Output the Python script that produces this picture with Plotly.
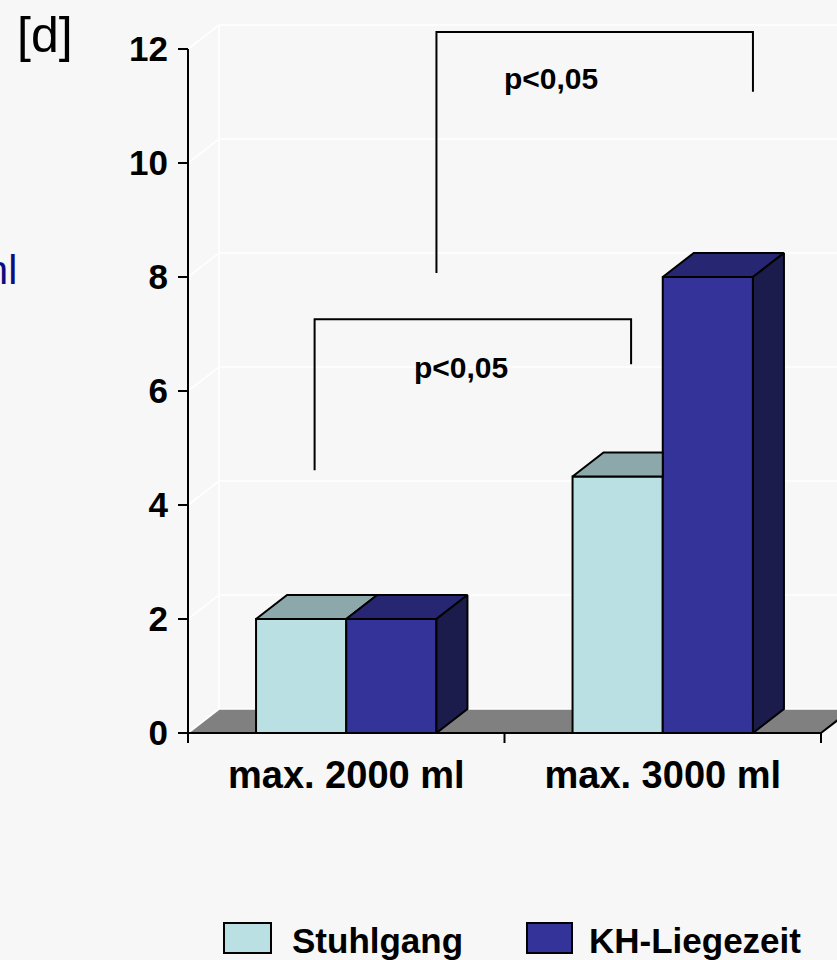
import plotly.graph_objects as go

# ---- data -------------------------------------------------------------
categories = ["max. 2000 ml", "max. 3000 ml"]
series_names = ["Stuhlgang", "KH-Liegezeit"]
stuhlgang = [2.0, 4.5]
kh_liegezeit = [2.0, 8.0]
y_ticks = [0, 2, 4, 6, 8, 10, 12]
unit_label = "[d]"
side_label = "ml"
sig_label = "p<0,05"

# significance brackets: left x, right x, left foot, right foot, top (data units)
bracket_x = [(-0.10, 0.90), (0.285, 1.285)]
bracket_y = [(4.61, 6.47, 7.26), (8.07, 11.25, 12.30)]
bracket_text_pos = [(0.363, 6.42), (0.647, 11.49)]

# ---- style / layout constants -----------------------------------------
W, H = 837, 960
X0_PX, Y0_PX = 188, 733          # pixel position of the front-left corner
CAT_PX, UNIT_PX = 316.5, 57.0    # pixels per category / per y unit
DEPTH_PX = (31, 24)              # 3-D depth offset of the box faces
BAR_W = 0.285
BG = "#f7f7f7"
FRONT = ["#BBE0E3", "#333399"]
TOP = ["#8DA8AB", "#262673"]
SIDE = ["#6E8486", "#1B1B4C"]
FONT = "Liberation Sans, Arial, Helvetica, sans-serif"

values = [stuhlgang, kh_liegezeit]
ddx = DEPTH_PX[0] / CAT_PX
ddy = DEPTH_PX[1] / UNIT_PX
x_lo = -0.5 - X0_PX / CAT_PX
x_hi = -0.5 + (W - X0_PX) / CAT_PX
y_lo = -(H - Y0_PX) / UNIT_PX
y_hi = Y0_PX / UNIT_PX
xL, xR = -0.5, len(categories) - 0.5
ymax = y_ticks[-1]
tick_len = 10 / UNIT_PX

fig = go.Figure()
shapes = []

# floor of the 3-D box
shapes.append(dict(type="path", layer="below", xref="x", yref="y",
                   path=f"M{xL},0 L{xR},0 L{xR + ddx},{ddy} L{xL + ddx},{ddy} Z",
                   fillcolor="#808080", line=dict(width=0)))
# back wall grid and side-wall diagonals
for v in y_ticks:
    shapes.append(dict(type="line", layer="below", xref="x", yref="y",
                       x0=xL + ddx, y0=v + ddy, x1=x_hi + 1, y1=v + ddy,
                       line=dict(color="white", width=1.6)))
    shapes.append(dict(type="line", layer="below", xref="x", yref="y",
                       x0=xL, y0=v, x1=xL + ddx, y1=v + ddy,
                       line=dict(color="white", width=1.6)))
shapes.append(dict(type="line", layer="below", xref="x", yref="y",
                   x0=xL + ddx, y0=ddy, x1=xL + ddx, y1=ymax + ddy,
                   line=dict(color="white", width=1.6)))
# axis lines, floor edge and category tick marks
axis_line = dict(color="black", width=2)
shapes.append(dict(type="line", layer="below", xref="x", yref="y",
                   x0=xL, y0=0, x1=xL, y1=ymax, line=axis_line))
shapes.append(dict(type="line", layer="below", xref="x", yref="y",
                   x0=xL, y0=0, x1=xR, y1=0, line=axis_line))
shapes.append(dict(type="line", layer="below", xref="x", yref="y",
                   x0=xR, y0=0, x1=xR + ddx, y1=ddy, line=axis_line))
for k in range(len(categories) + 1):
    xb = xL + k
    shapes.append(dict(type="line", layer="below", xref="x", yref="y",
                       x0=xb, y0=0, x1=xb, y1=-tick_len, line=axis_line))

# front faces of the columns
for i, name in enumerate(series_names):
    fig.add_trace(go.Bar(
        x=list(range(len(categories))), y=values[i], name=name,
        width=BAR_W, offset=-BAR_W + i * BAR_W,
        marker=dict(color=FRONT[i], line=dict(color="black", width=2)),
        showlegend=False, hoverinfo="skip"))


def poly(pts, color):
    xs = [p[0] for p in pts] + [pts[0][0]]
    ys = [p[1] for p in pts] + [pts[0][1]]
    fig.add_trace(go.Scatter(x=xs, y=ys, mode="lines", fill="toself",
                             fillcolor=color, line=dict(color="black", width=2),
                             showlegend=False, hoverinfo="skip"))


# top and right faces, hidden parts left out where a neighbour covers them
for c in range(len(categories)):
    for i in range(len(series_names)):
        v = values[i][c]
        x0 = c - BAR_W + i * BAR_W
        x1 = x0 + BAR_W
        nxt = values[i + 1][c] if i + 1 < len(series_names) else None
        if nxt is not None and nxt > v:
            poly([(x0, v), (x1, v), (x1, v + ddy), (x0 + ddx, v + ddy)], TOP[i])
        else:
            poly([(x0, v), (x1, v), (x1 + ddx, v + ddy), (x0 + ddx, v + ddy)], TOP[i])
        if nxt is None:
            poly([(x1, 0), (x1, v), (x1 + ddx, v + ddy), (x1 + ddx, ddy)], SIDE[i])
        elif nxt < v:
            poly([(x1, nxt), (x1, v), (x1 + ddx, v + ddy), (x1 + ddx, nxt + ddy)], SIDE[i])

# significance brackets
annotations = []
for (xa, xb), (ya, yb, yt), (tx, ty) in zip(bracket_x, bracket_y, bracket_text_pos):
    fig.add_trace(go.Scatter(x=[xa, xa, xb, xb], y=[ya, yt, yt, yb], mode="lines",
                             line=dict(color="black", width=2),
                             showlegend=False, hoverinfo="skip"))
    annotations.append(dict(x=tx, y=ty, xref="x", yref="y", text=sig_label,
                            showarrow=False, xanchor="center", yanchor="middle",
                            font=dict(family=FONT, size=30, color="black", weight="bold")))

# unit label and clipped side text
annotations.append(dict(x=45 / W, y=1 - 35 / H, xref="paper", yref="paper",
                        xanchor="center", yanchor="middle",
                        text=unit_label, showarrow=False,
                        font=dict(family=FONT, size=50, color="black")))
annotations.append(dict(x=19 / W, y=1 - 270 / H, xref="paper", yref="paper",
                        xanchor="right", yanchor="middle",
                        text=side_label, showarrow=False,
                        font=dict(family=FONT, size=41, color="#0d0d80")))

# legend
legend_swatch_x = [(224, 271), (527, 572)]
legend_text_x = [290, 587]
for i, name in enumerate(series_names):
    sx0, sx1 = legend_swatch_x[i]
    shapes.append(dict(type="rect", xref="paper", yref="paper",
                       x0=sx0 / W, x1=sx1 / W, y0=1 - 953 / H, y1=1 - 923 / H,
                       fillcolor=FRONT[i], line=dict(color="black", width=2)))
    annotations.append(dict(x=legend_text_x[i] / W, y=1 - 940 / H,
                            xref="paper", yref="paper",
                            xanchor="left", yanchor="middle",
                            text=name, showarrow=False,
                            font=dict(family=FONT, size=35, color="black", weight="bold")))

fig.update_layout(
    width=W, height=H,
    margin=dict(l=0, r=0, t=0, b=0, autoexpand=False),
    paper_bgcolor=BG, plot_bgcolor=BG,
    barmode="overlay",
    shapes=shapes, annotations=annotations,
    xaxis=dict(range=[x_lo, x_hi], showgrid=False, zeroline=False, showline=False,
               tickvals=list(range(len(categories))), ticktext=categories,
               ticks="", anchor="free", position=(H - Y0_PX) / H,
               ticklabelstandoff=16,
               tickfont=dict(family=FONT, size=38, color="black", weight="bold"),
               fixedrange=True),
    yaxis=dict(range=[y_lo, y_hi], showgrid=False, zeroline=False, showline=False,
               tickvals=y_ticks, ticks="outside", ticklen=10, tickwidth=2,
               tickcolor="black", anchor="free", position=X0_PX / W,
               ticklabelstandoff=3,
               tickfont=dict(family=FONT, size=35, color="black", weight="bold"),
               fixedrange=True),
)

fig.write_html("out.html")
